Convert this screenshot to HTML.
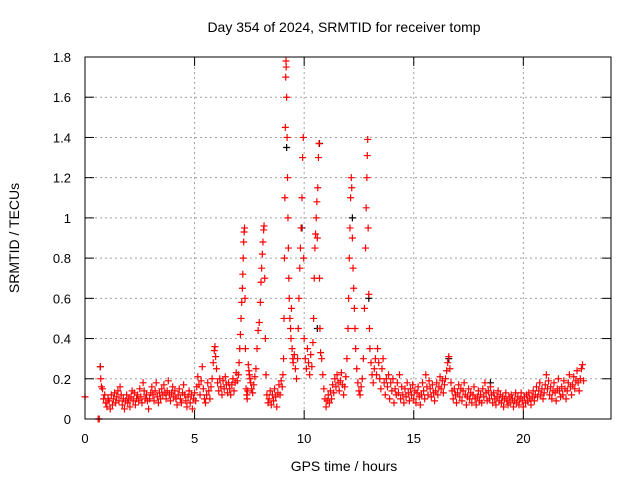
<!DOCTYPE html>
<html><head><meta charset="utf-8"><style>
body{margin:0;background:#fff}
svg{display:block;font-family:"Liberation Sans",sans-serif}
</style></head><body>
<svg id="chart" width="640" height="480" viewBox="0 0 640 480">
<rect width="640" height="480" fill="#fff"/>
<text x="344" y="32" font-size="14" text-anchor="middle">Day 354 of 2024, SRMTID for receiver tomp</text>
<text transform="translate(19,238) rotate(-90)" font-size="14" text-anchor="middle">SRMTID / TECUs</text>
<text x="344" y="471" font-size="14" text-anchor="middle">GPS time / hours</text>
<g id="grid"></g><g id="ticks"></g><g id="pts"></g>
<rect x="85" y="57" width="526" height="362" fill="none" stroke="#000" stroke-width="1"/>
</svg>
<script>
const xTicks=[0,5,10,15,20];
const yTicks=[0,0.2,0.4,0.6,0.8,1,1.2,1.4,1.6,1.8];
const yTickLabels=["0","0.2","0.4","0.6","0.8","1","1.2","1.4","1.6","1.8"];
const blackPoints=[[0.7,0.26],[9.2,1.35],[9.9,0.95],[10.7,1.37],[12.2,1.0],[12.95,0.6],[10.6,0.45],[16.6,0.3],[18.5,0.18]];
const seg1=[[0,.11],[0.6,0],[0.65,0],[0.7,.26],[0.72,.2],[0.75,.16],[0.8,.15],[.85,.10],[.9,.12],[.95,.08],[1.0,.06],[1.05,.10],[1.1,.09],[1.15,.05],[1.2,.12],[1.25,.07],[1.3,.10],[1.35,.13],[1.4,.08],[1.45,.11],[1.5,.14],[1.55,.09],[1.6,.16],[1.65,.12],[1.7,.07],[1.75,.10],[1.8,.05],[1.85,.09],[1.9,.12],[1.95,.08],[2.0,.10],[2.05,.06],[2.1,.11],[2.15,.14],[2.2,.09],[2.25,.13],[2.3,.07],[2.35,.10],[2.4,.12],[2.45,.09],[2.5,.15],[2.55,.11],[2.6,.08],[2.65,.18],[2.7,.14],[2.75,.10],[2.8,.12],[2.85,.09],[2.9,.05],[2.95,.10],[3.0,.13],[3.05,.16],[3.1,.12],[3.15,.09],[3.2,.14],[3.25,.18],[3.3,.11],[3.35,.08],[3.4,.13],[3.45,.10],[3.5,.15],[3.55,.12],[3.6,.17],[3.65,.13],[3.7,.10],[3.75,.14],[3.8,.19],[3.85,.12],[3.9,.09],[3.95,.13],[4.0,.16],[4.05,.11],[4.1,.14],[4.15,.10],[4.2,.07],[4.25,.12],[4.3,.15],[4.35,.10],[4.4,.08],[4.45,.13],[4.5,.17],[4.55,.12],[4.6,.09],[4.65,.06],[4.7,.11],[4.75,.14],[4.8,.08],[4.85,.12],[4.9,.05],[4.95,.10]];
const seg2=[[5.0,.13],[5.05,.09],[5.1,.16],[5.15,.21],[5.2,.17],[5.25,.12],[5.3,.19],[5.35,.26],[5.4,.15],[5.45,.10],[5.5,.08],[5.55,.12],[5.6,.18],[5.65,.14],[5.7,.10],[5.75,.16],[5.8,.20],[5.85,.28],[5.9,.34],[5.93,.36],[5.96,.31],[6.0,.25],[6.05,.18],[6.1,.14],[6.15,.20],[6.2,.16],[6.25,.12],[6.3,.19],[6.35,.15],[6.4,.21],[6.45,.17],[6.5,.13],[6.55,.18],[6.6,.15],[6.65,.12],[6.7,.17],[6.75,.20],[6.8,.14],[6.85,.18],[6.9,.23],[6.95,.19],[7.0,.22],[7.03,.28],[7.06,.35],[7.09,.42],[7.12,.50],[7.15,.58],[7.18,.65],[7.2,.72],[7.22,.80],[7.24,.88],[7.26,.93],[7.28,.95],[7.3,.60],[7.32,.35],[7.35,.15],[7.38,.12],[7.4,.10],[7.42,.14],[7.45,.27],[7.48,.24],[7.5,.22],[7.53,.20],[7.56,.18],[7.6,.15],[7.65,.13],[7.7,.17],[7.75,.21],[7.8,.25],[7.85,.35],[7.9,.44],[7.95,.48],[8.0,.58],[8.03,.68],[8.06,.75],[8.09,.82],[8.12,.88],[8.15,.94],[8.17,.96],[8.2,.70],[8.23,.40],[8.26,.22],[8.3,.12],[8.35,.08],[8.4,.10],[8.45,.14],[8.5,.07],[8.55,.12],[8.6,.09],[8.65,.15],[8.7,.11],[8.75,.06],[8.8,.13],[8.85,.17],[8.9,.12],[8.95,.19]];
const seg3=[[9.0,.16],[9.03,.22],[9.06,.30],[9.08,.50],[9.1,.80],[9.12,1.10],[9.14,1.45],[9.16,1.70],[9.17,1.78],[9.18,1.75],[9.2,1.60],[9.22,1.40],[9.24,1.20],[9.26,1.00],[9.28,.85],[9.3,.70],[9.32,.60],[9.35,.50],[9.38,.45],[9.4,.40],[9.42,.55],[9.45,.35],[9.48,.30],[9.5,.28],[9.55,.32],[9.6,.25],[9.65,.20],[9.7,.30],[9.73,.45],[9.76,.60],[9.8,.75],[9.83,.85],[9.86,.95],[9.9,1.10],[9.93,1.30],[9.96,1.40],[9.98,.80],[10.0,.40],[10.05,.30],[10.1,.25],[10.15,.35],[10.2,.28],[10.25,.22],[10.3,.32],[10.35,.26],[10.4,.38],[10.43,.50],[10.46,.70],[10.49,.85],[10.52,.92],[10.55,1.00],[10.58,1.08],[10.6,.90],[10.62,1.15],[10.65,1.30],[10.68,1.37],[10.7,.70],[10.72,.45],[10.75,.33],[10.8,.30],[10.85,.22],[10.9,.15],[10.95,.10],[11.0,.06],[11.05,.09],[11.1,.12],[11.15,.08],[11.2,.14],[11.25,.10],[11.3,.17],[11.35,.13],[11.4,.20],[11.45,.16],[11.5,.22],[11.55,.18],[11.6,.14],[11.65,.19],[11.7,.23],[11.75,.17],[11.8,.12],[11.85,.16],[11.9,.21],[11.95,.30],[12.0,.45],[12.03,.60],[12.06,.80],[12.09,.95],[12.12,1.10],[12.15,1.20],[12.17,1.15],[12.2,.90],[12.23,.75],[12.26,.65],[12.29,.55],[12.32,.45],[12.35,.35],[12.4,.25],[12.45,.18],[12.5,.14],[12.55,.12],[12.6,.16],[12.65,.20],[12.7,.30],[12.75,.55],[12.8,.85],[12.83,1.05],[12.86,1.20],[12.88,1.31],[12.9,1.39],[12.92,.95],[12.95,.62],[12.98,.45]];
const seg4=[[13.0,.35],[13.05,.28],[13.1,.22],[13.15,.18],[13.2,.25],[13.25,.30],[13.3,.22],[13.35,.35],[13.4,.28],[13.45,.20],[13.5,.15],[13.55,.25],[13.6,.30],[13.65,.18],[13.7,.12],[13.75,.20],[13.8,.16],[13.85,.22],[13.9,.10],[13.95,.18],[14.0,.14],[14.05,.20],[14.1,.08],[14.15,.15],[14.2,.12],[14.25,.18],[14.3,.13],[14.35,.22],[14.4,.10],[14.45,.16],[14.5,.12],[14.55,.08],[14.6,.15],[14.65,.11],[14.7,.18],[14.75,.13],[14.8,.09],[14.85,.15],[14.9,.12],[14.95,.17],[15.0,.10],[15.05,.14],[15.1,.08],[15.15,.13],[15.2,.16],[15.25,.11],[15.3,.07],[15.35,.12],[15.4,.18],[15.45,.14],[15.5,.10],[15.55,.22],[15.6,.16],[15.65,.12],[15.7,.19],[15.75,.15],[15.8,.11],[15.85,.17],[15.9,.13],[15.95,.09],[16.0,.14],[16.05,.18],[16.1,.12],[16.15,.16],[16.2,.21],[16.25,.15],[16.3,.19],[16.35,.13],[16.4,.17],[16.45,.20],[16.5,.24],[16.55,.28],[16.6,.31],[16.65,.25],[16.7,.18],[16.75,.14],[16.8,.10],[16.85,.15],[16.9,.12],[16.95,.08],[17.0,.13],[17.05,.17],[17.1,.11],[17.15,.15],[17.2,.09],[17.25,.14],[17.3,.18],[17.35,.12],[17.4,.07],[17.45,.11],[17.5,.15],[17.55,.10],[17.6,.13],[17.65,.08],[17.7,.12],[17.75,.16],[17.8,.10],[17.85,.07],[17.9,.11],[17.95,.14]];
const seg5=[[18.0,.09],[18.05,.12],[18.1,.08],[18.15,.15],[18.2,.11],[18.25,.18],[18.3,.13],[18.35,.09],[18.4,.14],[18.45,.10],[18.5,.16],[18.55,.12],[18.6,.08],[18.65,.13],[18.7,.10],[18.75,.07],[18.8,.11],[18.85,.14],[18.9,.09],[18.95,.12],[19.0,.08],[19.05,.11],[19.1,.06],[19.15,.10],[19.2,.13],[19.25,.09],[19.3,.07],[19.35,.11],[19.4,.08],[19.45,.12],[19.5,.10],[19.55,.06],[19.6,.09],[19.65,.13],[19.7,.08],[19.75,.11],[19.8,.07],[19.85,.10],[19.9,.13],[19.95,.09],[20.0,.06],[20.05,.11],[20.1,.08],[20.15,.12],[20.2,.09],[20.25,.13],[20.3,.10],[20.35,.07],[20.4,.11],[20.45,.14],[20.5,.09],[20.55,.12],[20.6,.16],[20.65,.11],[20.7,.14],[20.75,.18],[20.8,.12],[20.85,.15],[20.9,.10],[20.95,.13],[21.0,.17],[21.05,.22],[21.1,.15],[21.15,.19],[21.2,.12],[21.25,.16],[21.3,.10],[21.35,.14],[21.4,.18],[21.45,.13],[21.5,.09],[21.55,.15],[21.6,.20],[21.65,.14],[21.7,.11],[21.75,.16],[21.8,.12],[21.85,.19],[21.9,.15],[21.95,.10],[22.0,.14],[22.05,.18],[22.1,.22],[22.15,.16],[22.2,.12],[22.25,.17],[22.3,.21],[22.35,.15],[22.4,.19],[22.45,.24],[22.5,.18],[22.55,.14],[22.6,.20],[22.65,.25],[22.7,.27],[22.75,.19]];
const redPoints=seg1.concat(seg2,seg3,seg4,seg5);

const X0=85,X1=611,Y0=419,Y1=57,XMAX=24,YMAX=1.8;
function xs(t){return X0+(X1-X0)*t/XMAX;}
function ys(v){return Y0-(Y0-Y1)*v/YMAX;}
const NS="http://www.w3.org/2000/svg";
const grid=document.getElementById('grid'),ticks=document.getElementById('ticks'),pts=document.getElementById('pts');
function mk(tag,attrs,parent){const e=document.createElementNS(NS,tag);for(const k in attrs)e.setAttribute(k,attrs[k]);parent.appendChild(e);return e;}
yTicks.forEach((v,i)=>{
  const y=ys(v);
  if(i>0&&i<yTicks.length-1){const g=mk('line',{x1:X0,x2:X1,y1:y,y2:y,stroke:'#a0a0a0','stroke-dasharray':'2,3'},grid);
  
  }
  mk('line',{x1:X0,x2:X0+9,y1:y,y2:y,stroke:'#000'},ticks);
  mk('line',{x1:X1,x2:X1-9,y1:y,y2:y,stroke:'#000'},ticks);
  const t=mk('text',{x:X0-14,y:y+5,'font-size':13,'text-anchor':'end'},ticks);
  t.textContent=yTickLabels[i];
  
  
});
xTicks.forEach(v=>{
  const x=xs(v);
  if(v>0){const g=mk('line',{x1:x,x2:x,y1:Y0,y2:Y1,stroke:'#a0a0a0','stroke-dasharray':'2,3'},grid);
  
  }
  mk('line',{x1:x,x2:x,y1:Y0,y2:Y0-9,stroke:'#000'},ticks);
  mk('line',{x1:x,x2:x,y1:Y1,y2:Y1+9,stroke:'#000'},ticks);
  const t=mk('text',{x:x,y:Y0+24,'font-size':13,'text-anchor':'middle'},ticks);
  t.textContent=String(v);
  
  
});
function plus(t,v,color){
  const x=xs(t),y=ys(v);
  const p=mk('path',{d:`M${x-3.5},${y}h7M${x},${y-3.5}v7`,stroke:color,'stroke-width':1.2,fill:'none'},pts);
  return p;
}
blackPoints.forEach(d=>{const p=plus(d[0],d[1],'#000');
  
  });
redPoints.forEach(d=>{const p=plus(d[0],d[1],'#ff0000');
  
  });
</script>
</body></html>
